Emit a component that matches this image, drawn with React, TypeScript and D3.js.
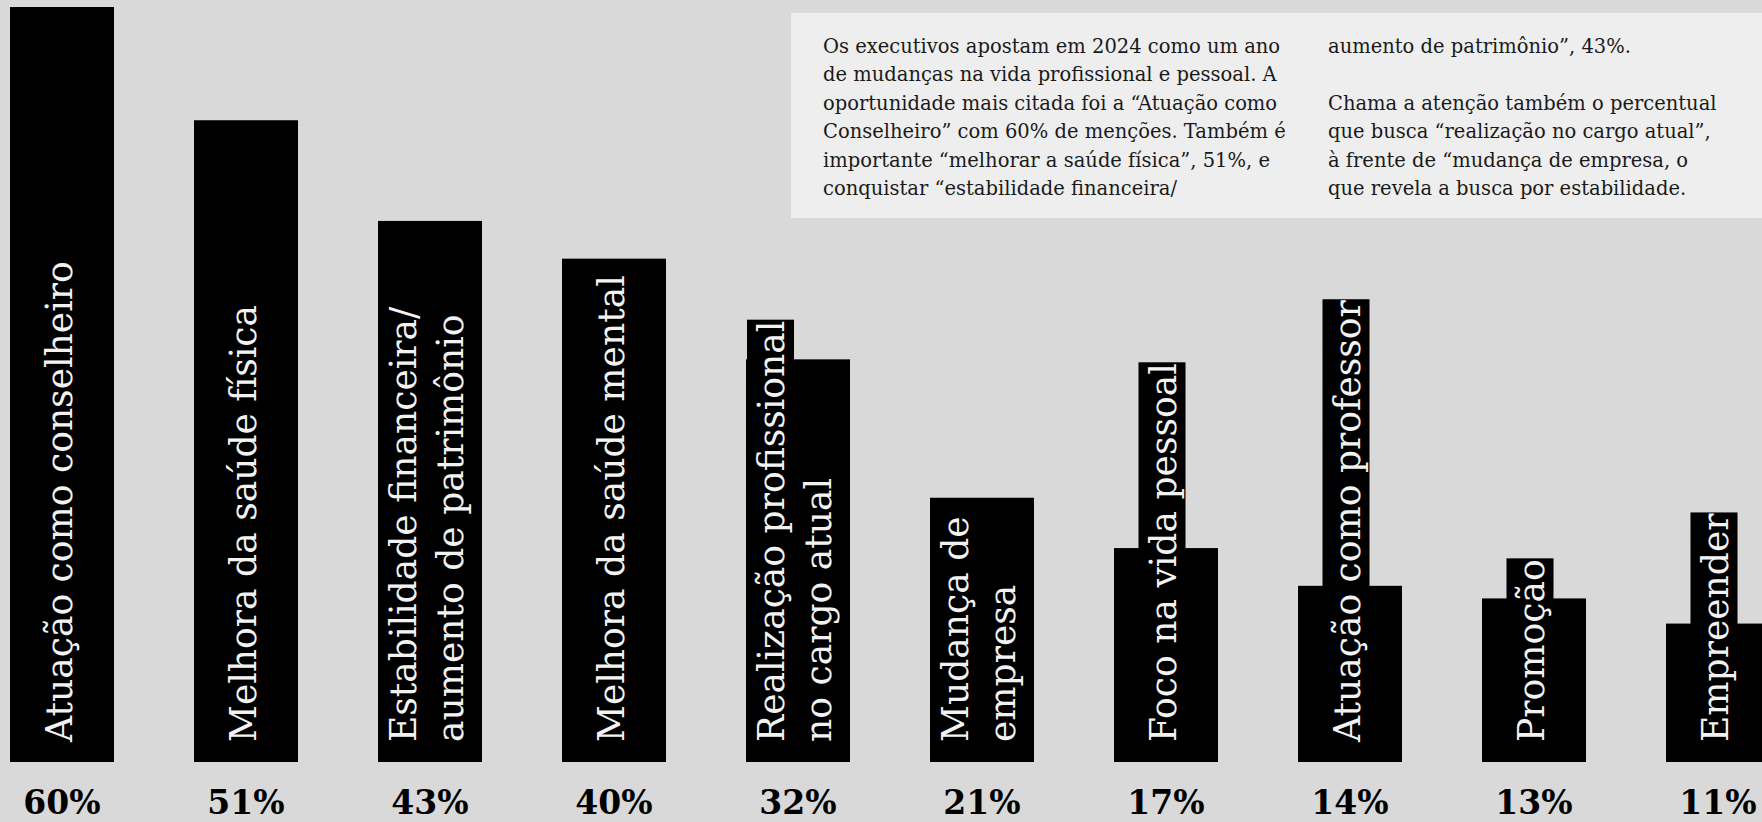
import React, { useEffect, useRef } from "react";
import * as d3 from "d3";

// Survey: opportunities executives expect in 2024 (% of mentions)
const categories: string[] = [
  "Atuação como conselheiro",
  "Melhora da saúde física",
  "Estabilidade financeira/ aumento de patrimônio",
  "Melhora da saúde mental",
  "Realização profissional no cargo atual",
  "Mudança de empresa",
  "Foco na vida pessoal",
  "Atuação como professor",
  "Promoção",
  "Empreender",
];

const labelLines: string[][] = [
  ["Atuação como conselheiro"],
  ["Melhora da saúde física"],
  ["Estabilidade financeira/", "aumento de patrimônio"],
  ["Melhora da saúde mental"],
  ["Realização profissional", "no cargo atual"],
  ["Mudança de", "empresa"],
  ["Foco na vida pessoal"],
  ["Atuação como professor"],
  ["Promoção"],
  ["Empreender"],
];

const values: number[] = [60, 51, 43, 40, 32, 21, 17, 14, 13, 11];

const noteLeft: string[] = [
  "Os executivos apostam em 2024 como um ano",
  "de mudanças na vida profissional e pessoal. A",
  "oportunidade mais citada foi a “Atuação como",
  "Conselheiro” com 60% de menções. Também é",
  "importante “melhorar a saúde física”, 51%, e",
  "conquistar “estabilidade financeira/",
];

const noteRight: string[] = [
  "aumento de patrimônio”, 43%.",
  "",
  "Chama a atenção também o percentual",
  "que busca “realização no cargo atual”,",
  "à frente de “mudança de empresa, o",
  "que revela a busca por estabilidade.",
];

const W = 1762;
const H = 822;
const BG = "#d9d9d9";
const SERIF = "'DejaVu Serif', serif";

export default function App() {
  const ref = useRef<SVGSVGElement | null>(null);

  useEffect(() => {
    const svg = d3.select(ref.current);
    svg.selectAll("*").remove();

    svg.append("rect").attr("width", W).attr("height", H).attr("fill", BG);

    const x = d3
      .scaleBand<string>()
      .domain(categories)
      .range([10, 1770])
      .paddingInner(80 / 184)
      .paddingOuter(0);

    const y = d3.scaleLinear().domain([0, 60]).range([762, 7]);

    // note panel
    const note = svg.append("g");
    note
      .append("rect")
      .attr("x", 791)
      .attr("y", 13)
      .attr("width", W - 791)
      .attr("height", 205)
      .attr("fill", "#eeeeee");
    const lineGap = 28.4;
    [
      { lines: noteLeft, x0: 823 },
      { lines: noteRight, x0: 1328 },
    ].forEach((col) => {
      note
        .append("g")
        .selectAll("text")
        .data(col.lines)
        .join("text")
        .attr("x", col.x0)
        .attr("y", (_d, i) => 53 + i * lineGap)
        .attr("font-family", SERIF)
        .attr("font-size", 19.5)
        .attr("fill", "#1a1a1a")
        .text((d) => d);
    });

    // bars
    svg
      .append("g")
      .selectAll("rect")
      .data(values)
      .join("rect")
      .attr("x", (_d, i) => x(categories[i])!)
      .attr("y", (d) => y(d))
      .attr("width", x.bandwidth())
      .attr("height", (d) => y(0) - y(d))
      .attr("fill", "#000");

    // rotated labels with their own black backing
    const fontSize = 38;
    const lineH = 47;
    const squeeze = 0.95;
    const startY = y(0) - 20;
    categories.forEach((c, i) => {
      const lines = labelLines[i];
      const center = x(c)! + x.bandwidth() / 2 - 4;
      const left0 = center - (lines.length * lineH) / 2;
      const g = svg.append("g");
      lines.forEach((ln, j) => {
        const boxLeft = left0 + j * lineH;
        const base = boxLeft + 37;
        const bg = g.append("rect").attr("fill", "#000");
        const t = g
          .append("text")
          .attr("transform", `translate(${base},${startY}) rotate(-90) scale(${squeeze},1)`)
          .attr("font-family", SERIF)
          .attr("font-size", fontSize)
          .attr("fill", "#f2f2f2")
          .text(ln);
        const len = (t.node() as SVGTextElement).getComputedTextLength() * squeeze;
        const top = startY - len - 1;
        bg.attr("x", boxLeft)
          .attr("y", top)
          .attr("width", lineH)
          .attr("height", y(0) - top);
      });
    });

    // value labels
    svg
      .append("g")
      .selectAll("text")
      .data(values)
      .join("text")
      .attr("x", (_d, i) => x(categories[i])! + x.bandwidth() / 2)
      .attr("y", 814)
      .attr("text-anchor", "middle")
      .attr("font-family", SERIF)
      .attr("font-weight", "bold")
      .attr("font-size", 33)
      .attr("fill", "#000")
      .text((d) => `${d}%`);
  }, []);

  return (
    <svg
      ref={ref}
      width={W}
      height={H}
      style={{ position: "fixed", left: 0, top: 0, display: "block" }}
    />
  );
}
